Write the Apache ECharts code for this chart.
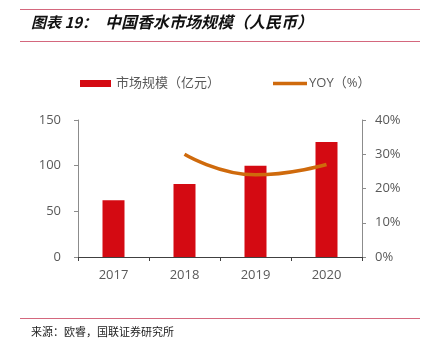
<!DOCTYPE html>
<html><head><meta charset="utf-8">
<script src="https://cdn.jsdelivr.net/npm/echarts@6/dist/echarts.min.js"></script>
<style>html,body{margin:0;padding:0;background:#fff}#c{width:421px;height:343px}</style>
</head><body><div id="c"></div>
<script>
const categories = ['2017', '2018', '2019', '2020'];
const marketSize = [62, 80, 100, 126];
const yoy = [null, 30, 24, 27];
const leftTicks = [0, 50, 100, 150];
const rightTicks = [0, 10, 20, 30, 40];

const chart = echarts.init(document.getElementById('c'));
const labelFont = '"Open Sans", "Noto Sans CJK SC", sans-serif';
chart.setOption({
  animation: false,
  textStyle: { fontFamily: labelFont },
  graphic: [
    { type: 'line', shape: { x1: 20, y1: 9.5, x2: 420, y2: 9.5 }, style: { stroke: '#D4677D', lineWidth: 1.2 } },
    { type: 'line', shape: { x1: 20, y1: 41.5, x2: 420, y2: 41.5 }, style: { stroke: '#D4677D', lineWidth: 1.2 } },
    { type: 'line', shape: { x1: 20, y1: 318.5, x2: 420, y2: 318.5 }, style: { stroke: '#D4677D', lineWidth: 1.2 } },
    { type: 'text', left: 31, top: 15, style: { text: '图表 19：', fill: '#111', font: 'italic bold 15px "Noto Sans CJK SC", sans-serif' } },
    { type: 'text', left: 105, top: 14, style: { text: '中国香水市场规模（人民币）', fill: '#111', font: 'italic bold 16px "Noto Sans CJK SC", sans-serif' } },
    { type: 'text', left: 31, top: 326, style: { text: '来源：欧睿，国联证券研究所', fill: '#222', font: '11px "Noto Sans CJK SC", sans-serif' } }
  ],
  legend: [
    {
      top: 72,
      left: 75,
      itemWidth: 31,
      itemHeight: 7,
      textStyle: { color: '#595959', fontSize: 13, fontFamily: labelFont },
      data: [{ name: '市场规模（亿元）', icon: 'rect' }]
    },
    {
      top: 72,
      left: 268,
      itemWidth: 34,
      itemHeight: 3.5,
      textStyle: { color: '#595959', fontSize: 13, fontFamily: labelFont, padding: [0, 0, 0, -3] },
      data: [{ name: 'YOY（%）', icon: 'rect' }]
    }
  ],
  grid: { left: 78, right: 59, top: 120, bottom: 86 },
  xAxis: {
    type: 'category',
    data: categories,
    axisLine: { lineStyle: { color: '#404040', width: 1 } },
    axisTick: { show: true, alignWithLabel: false, length: 4, lineStyle: { color: '#404040' } },
    axisLabel: { color: '#595959', fontSize: 13, margin: 12 }
  },
  yAxis: [
    {
      type: 'value', min: 0, max: 150, interval: 50,
      axisLine: { show: true, lineStyle: { color: '#8c8c8c' } },
      axisTick: { show: true, length: 4, lineStyle: { color: '#8c8c8c' } },
      splitLine: { show: false },
      axisLabel: { color: '#595959', fontSize: 13, margin: 17 }
    },
    {
      type: 'value', min: 0, max: 40, interval: 10,
      axisLine: { show: true, lineStyle: { color: '#8c8c8c' } },
      axisTick: { show: true, length: 4, lineStyle: { color: '#8c8c8c' } },
      splitLine: { show: false },
      axisLabel: { color: '#595959', fontSize: 13, margin: 13, formatter: '{value}%' }
    }
  ],
  series: [
    {
      name: '市场规模（亿元）', type: 'bar', data: marketSize, barWidth: 22,
      itemStyle: { color: '#D40A12' }
    },
    {
      name: 'YOY（%）', type: 'line', yAxisIndex: 1, data: yoy, smooth: true,
      showSymbol: false, symbol: 'none',
      lineStyle: { color: '#CF6A0C', width: 3.5 },
      itemStyle: { color: '#CF6A0C' }
    }
  ]
});
</script></body></html>
